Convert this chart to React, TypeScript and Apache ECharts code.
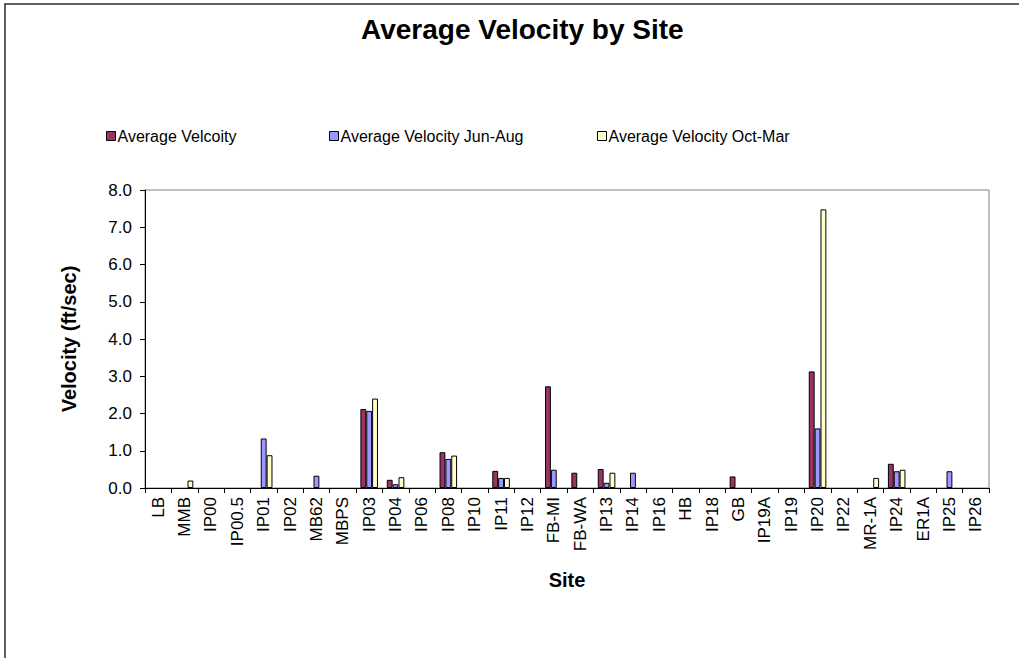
import React, { useEffect, useRef } from "react";
import * as echarts from "echarts";

// Monitoring sites along the x axis
const sites = [
  "LB", "MMB", "IP00", "IP00.5", "IP01", "IP02", "MB62", "MBPS", "IP03", "IP04",
  "IP06", "IP08", "IP10", "IP11", "IP12", "FB-MI", "FB-WA", "IP13", "IP14", "IP16",
  "HB", "IP18", "GB", "IP19A", "IP19", "IP20", "IP22", "MR-1A", "IP24", "ER1A",
  "IP25", "IP26",
];

// Velocities in ft/sec (null = no measurement)
const avgVelocity = [
  null, null, null, null, null, null, null, null, 2.12, 0.22,
  null, 0.96, null, 0.46, null, 2.73, 0.41, 0.51, null, null,
  null, null, 0.31, null, null, 3.13, null, null, 0.65, null,
  null, null,
];
const avgJunAug = [
  null, null, null, null, 1.33, null, 0.33, null, 2.07, 0.1,
  null, 0.78, null, 0.27, null, 0.49, null, 0.14, 0.41, null,
  null, null, null, null, null, 1.6, null, null, 0.45, null,
  0.45, null,
];
const avgOctMar = [
  null, 0.2, null, null, 0.88, null, null, null, 2.4, 0.29,
  null, 0.87, null, 0.27, null, null, null, 0.41, null, null,
  null, null, null, null, null, 7.48, null, 0.27, 0.49, null,
  null, null,
];

const seriesNames = [
  "Average Velcoity",
  "Average Velocity Jun-Aug",
  "Average Velocity Oct-Mar",
];
const seriesColors = ["#993366", "#9999FF", "#FFFFCC"];
const legendLeft = [106, 329, 597];

const FONT = "'Liberation Sans', Arial, sans-serif";

export default function App() {
  const ref = useRef<HTMLDivElement>(null);

  useEffect(() => {
    if (!ref.current) return;
    const chart = echarts.init(ref.current, null, { renderer: "svg" });
    const values = [avgVelocity, avgJunAug, avgOctMar];

    chart.setOption({
      animation: false,
      backgroundColor: "#ffffff",
      textStyle: { fontFamily: FONT },
      title: {
        text: "Average Velocity by Site",
        left: 361,
        top: 15,
        padding: 0,
        textStyle: { fontFamily: FONT, fontSize: 28, fontWeight: "bold", color: "#000" },
      },
      legend: seriesNames.map((name, i) => ({
        data: [name],
        left: legendLeft[i],
        top: 128,
        padding: 0,
        itemWidth: 9,
        itemHeight: 9,
        itemGap: 0,
        icon: "rect",
        itemStyle: { borderColor: "#000", borderWidth: 1 },
        textStyle: { fontFamily: FONT, fontSize: 16, color: "#000", padding: [0, 0, 0, -3] },
      })),
      grid: {
        left: 145,
        right: 30,
        top: 190,
        bottom: 170,
        show: true,
        borderColor: "#808080",
        borderWidth: 1,
        backgroundColor: "#fff",
      },
      xAxis: {
        type: "category",
        data: sites,
        name: "Site",
        nameLocation: "middle",
        nameGap: 82,
        nameTextStyle: { fontFamily: FONT, fontSize: 20, fontWeight: "bold", color: "#000" },
        axisLine: { lineStyle: { color: "#000", width: 1 } },
        axisTick: { show: true, length: 5, lineStyle: { color: "#000" } },
        axisLabel: {
          rotate: 90,
          interval: 0,
          margin: 9,
          fontFamily: FONT,
          fontSize: 17,
          color: "#000",
        },
      },
      yAxis: {
        type: "value",
        min: 0,
        max: 8,
        interval: 1,
        name: "Velocity (ft/sec)",
        nameLocation: "middle",
        nameGap: 66,
        nameTextStyle: { fontFamily: FONT, fontSize: 20, fontWeight: "bold", color: "#000" },
        axisLine: { show: true, lineStyle: { color: "#000", width: 1 } },
        axisTick: { show: true, length: 5, lineStyle: { color: "#000" } },
        splitLine: { show: false },
        axisLabel: {
          margin: 13,
          fontFamily: FONT,
          fontSize: 17,
          color: "#000",
          formatter: (v: number) => v.toFixed(1),
        },
      },
      series: seriesNames.map((name, i) => ({
        name,
        type: "bar",
        data: values[i],
        barGap: "0%",
        barCategoryGap: "33.3%",
        itemStyle: { color: seriesColors[i], borderColor: "#000", borderWidth: 1 },
      })),
      graphic: [
        {
          type: "rect",
          silent: true,
          shape: { x: 5, y: 4, width: 1200, height: 900 },
          style: { fill: "none", stroke: "#2b2b2b", lineWidth: 1.5 },
          z: 100,
        },
      ],
    });

    return () => chart.dispose();
  }, []);

  return (
    <div
      ref={ref}
      style={{ position: "fixed", left: 0, top: 0, width: 1019, height: 658 }}
    />
  );
}
